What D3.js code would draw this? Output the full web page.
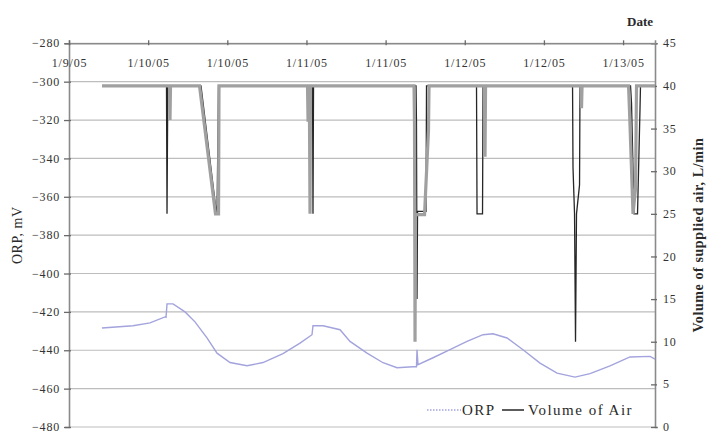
<!DOCTYPE html>
<html><head><meta charset="utf-8">
<script src="https://cdn.jsdelivr.net/npm/d3@7"></script>
<style>
html,body{margin:0;padding:0;background:#fff;}
</style></head>
<body><svg id="c" width="709" height="433"></svg>
<script>
// ---- data (time in hours from first tick) ----
const xTickLabels = ["1/9/05","1/10/05","1/10/05","1/11/05","1/11/05","1/12/05","1/12/05","1/13/05"];
const leftTicks = [-280,-300,-320,-340,-360,-380,-400,-420,-440,-460,-480];
const rightTicks = [45,40,35,30,25,20,15,10,5,0];

const orpTime = [5.00,9.70,12.28,14.55,14.71,14.86,15.77,17.59,19.10,20.92,22.44,24.41,26.99,29.41,32.44,35.02,36.84,36.99,38.51,41.09,42.60,45.18,47.61,49.73,52.15,52.68,52.76,52.91,55.19,57.76,60.34,62.77,64.28,66.41,68.83,71.41,73.99,76.71,78.99,82.02,85.05,88.09,88.84];
const orpValues = [-428.4,-427.2,-425.7,-422.6,-422.8,-415.8,-415.8,-420,-425.2,-433.5,-441.5,-446.4,-448.1,-446.4,-441.8,-436.3,-431.9,-427.2,-427.2,-429.3,-435.4,-441.5,-446.5,-449.1,-448.6,-448.6,-439.7,-447.5,-443.9,-439.7,-435.4,-431.9,-431.4,-433.6,-439.7,-446.7,-451.9,-454,-452.2,-448.1,-443.5,-443.2,-444.6];

const airTime = [5.00,14.78,14.86,14.98,20.01,22.36,22.44,22.67,36.92,36.99,37.07,52.61,52.68,52.76,52.84,54.13,54.20,61.78,61.86,62.69,62.77,76.34,76.41,76.64,76.79,76.94,77.40,77.47,85.13,85.28,85.66,86.19,86.57,86.64,88.84];
const airValues = [40,40,25,40,40,25,25,40,40,25,40,40,35.5,15,25.3,25.3,40,40,25,25,40,40,30.4,25,10,25,28.4,40,40,38,25,25,37.4,40,40];

const air2Time = [5.00,15.24,15.31,15.39,19.79,22.21,22.67,22.74,36.16,36.24,36.46,36.54,36.61,52.31,52.38,52.46,52.53,53.90,54.50,54.58,62.99,63.07,63.15,77.62,77.70,77.78,84.83,84.98,85.51,85.89,86.04,88.84];
const air2Values = [40,40,36,40,40,25,25,40,40,36,36,25,40,40,35.5,10,24.9,24.9,34.8,40,40,31.7,40,40,37.4,40,40,37,25,28,40,40];

// ---- layout ----
const FONT = "'Liberation Serif', 'DejaVu Serif', serif";
const svg = d3.select("#c");
const L = 69, R = 655, T = 43.3, B = 427;
const x = d3.scaleLinear().domain([0, 88.84]).range([L, R]);
const yL = d3.scaleLinear().domain([-480, -280]).range([B, T]);
const yR = d3.scaleLinear().domain([0, 45]).range([B, T]);

// gridlines
svg.append("g").selectAll("line").data(leftTicks).join("line")
  .attr("x1", L).attr("x2", R).attr("y1", d => yL(d)).attr("y2", d => yL(d))
  .attr("stroke", "#bdbdbd").attr("stroke-width", 1.2);

// axes
const gl = svg.append("g").attr("transform", `translate(${L},0)`)
  .call(d3.axisLeft(yL).tickValues(leftTicks).tickSize(4).tickPadding(5).tickFormat(d3.format("d")));
const gr = svg.append("g").attr("transform", `translate(${R},0)`)
  .call(d3.axisRight(yR).tickValues(rightTicks).tickSize(3).tickPadding(5));
const xTickVals = xTickLabels.map((d, i) => i * 12);
const gt = svg.append("g").attr("transform", `translate(0,${T})`)
  .call(d3.axisTop(x).tickValues(xTickVals).tickSize(3).tickFormat((d, i) => xTickLabels[i]));

[gl, gr, gt].forEach(g => {
  g.attr("font-family", null);
  g.select(".domain").attr("stroke", "#8a8a8a").attr("stroke-width", 1.6);
  g.selectAll(".tick line").attr("stroke", "#6a6a6a").attr("stroke-width", 1.3);
  g.selectAll("text").style("font-family", FONT).style("font-size", "12px")
    .attr("fill", "#333").style("letter-spacing", "0.8px");
});
gl.selectAll(".tick line").attr("x2", -5).attr("x1", 2);
gr.selectAll(".tick line").attr("x1", -4).attr("x2", 2);
gt.selectAll(".tick line").attr("y1", 2).attr("y2", -3);
gt.selectAll("text").attr("dy", 0).attr("y", 24);
gl.selectAll("text").attr("dy", "0.3em");
gr.selectAll("text").attr("dy", "0.3em");

// series
const lineOrp = d3.line().x(d => x(d[0])).y(d => yL(d[1]));
const lineAir = d3.line().x(d => x(d[0])).y(d => yR(d[1]));

svg.append("path").datum(orpTime.map((t, i) => [t, orpValues[i]]))
  .attr("d", lineOrp).attr("fill", "none").attr("stroke", "#a3a3dd").attr("stroke-width", 1.4);

svg.append("path").datum(airTime.map((t, i) => [t, airValues[i]]))
  .attr("d", lineAir).attr("fill", "none").attr("stroke", "#262626").attr("stroke-width", 1.3);

svg.append("path").datum(air2Time.map((t, i) => [t, air2Values[i]]))
  .attr("d", lineAir).attr("fill", "none").attr("stroke", "#a0a0a0").attr("stroke-width", 3.2);

// titles
function txt(sel, size, bold, ls) {
  return sel.style("font-family", FONT).style("font-size", size + "px")
    .style("font-weight", bold ? "bold" : "normal").style("letter-spacing", ls + "px").attr("fill", "#2a2a2a");
}
txt(svg.append("text").attr("x", 653).attr("y", 26).attr("text-anchor", "end"), 13, true, 0).text("Date");
txt(svg.append("text").attr("transform", `translate(22,${(T + B) / 2}) rotate(-90)`).attr("text-anchor", "middle"), 14, false, 0.6).text("ORP, mV");
txt(svg.append("text").attr("transform", `translate(703,${(T + B) / 2}) rotate(-90)`).attr("text-anchor", "middle"), 14, true, 0.6).text("Volume of supplied air, L/min");

// legend
const lg = svg.append("g");
lg.append("line").attr("x1", 427).attr("x2", 461).attr("y1", 410).attr("y2", 410)
  .attr("stroke", "#a3a3dd").attr("stroke-width", 1.4).attr("stroke-dasharray", "1.5,1.5");
txt(lg.append("text").attr("x", 462).attr("y", 415), 15, false, 1.5).text("ORP");
lg.append("line").attr("x1", 502).attr("x2", 524).attr("y1", 410).attr("y2", 410)
  .attr("stroke", "#262626").attr("stroke-width", 1.5);
txt(lg.append("text").attr("x", 528).attr("y", 415), 15, false, 1.5).text("Volume of Air");
</script></body></html>
